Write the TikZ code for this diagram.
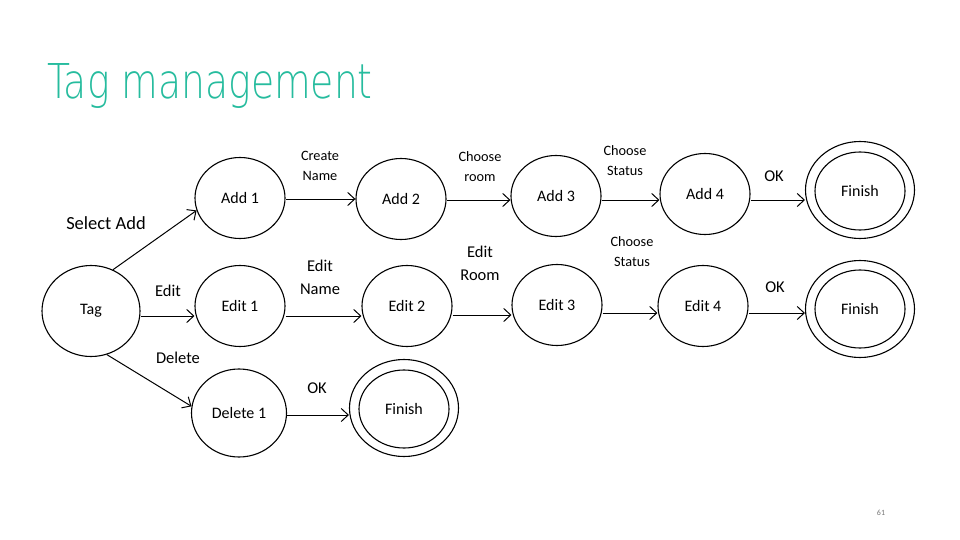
\documentclass[tikz,border=0pt]{standalone}
\usepackage{fontspec}
\setmainfont{Carlito}
\newfontfamily\titlefont{DejaVu Sans ExtraLight}
\usetikzlibrary{arrows.meta,shapes.geometric}
\definecolor{titleteal}{RGB}{38,188,158}
\definecolor{pagegrey}{RGB}{120,120,120}
\tikzset{
  state/.style={draw=black, line width=1.1pt, ellipse, minimum width=90pt, minimum height=81pt, inner sep=0pt, font=\fontsize{16}{16}\selectfont},
  finalouter/.style={draw=black, line width=1.1pt, ellipse, minimum width=109pt, minimum height=97pt, inner sep=0pt},
  finalinner/.style={draw=black, line width=1.1pt, ellipse, minimum width=90pt, minimum height=78pt, inner sep=0pt, font=\fontsize{16}{16}\selectfont},
  trans/.style={draw=black, line width=1pt, -{Straight Barb[length=7pt,width=13pt,line width=1pt]}},
  lbl/.style={font=\fontsize{16.5}{19}\selectfont, inner sep=0pt, align=center},
  slbl/.style={font=\fontsize{14.3}{20}\selectfont, inner sep=0pt, align=center},
}
\begin{document}
\begin{tikzpicture}[x=1pt,y=-1pt]
\useasboundingbox (0,0) rectangle (960,540);
\fill[white] (0,0) rectangle (960,540);

\node[anchor=base west, inner sep=0pt, text=titleteal, font=\titlefont\fontsize{48}{48}\selectfont, xscale=0.785] (title) at (47,99) {Tag management};

% states
\node[state, minimum width=98pt, minimum height=91pt] (tag) at (91,311) {Tag};
\node[state] (a1) at (240,198) {Add 1};
\node[state] (a2) at (401,199) {Add 2};
\node[state] (a3) at (556,196) {Add 3};
\node[state] (a4) at (705,194) {Add 4};
\node[finalouter] (fa) at (860,190) {};
\node[finalinner] (fai) at (860,191) {Finish};

\node[state] (e1) at (240,306) {Edit 1};
\node[state] (e2) at (407,306) {Edit 2};
\node[state] (e3) at (557,305) {Edit 3};
\node[state] (e4) at (703,306) {Edit 4};
\node[finalouter] (fe) at (860,309) {};
\node[finalinner] (fei) at (860,309) {Finish};

\node[state, minimum width=95pt, minimum height=88pt] (d1) at (239,413) {Delete 1};
\node[finalouter] (fd) at (404,408) {};
\node[finalinner] (fdi) at (404,409) {Finish};

% transitions
\draw[trans] (tag.62) -- (a1.196);
\draw[trans] ([yshift=-5pt]tag.east) -- ([yshift=-10pt]e1.west);
\draw[trans] (tag.-70) -- (d1.172);

\draw[trans] ([yshift=-1pt]a1.east) -- (a2.west);
\draw[trans] ([yshift=-1pt]a2.east) -- ([yshift=-4pt]a3.west);
\draw[trans] ([yshift=-4pt]a3.east) -- ([yshift=-6pt]a4.west);
\draw[trans] ([yshift=-6pt]a4.east) -- ([yshift=-10pt]fa.west);

\draw[trans] ([yshift=-10pt]e1.east) -- ([yshift=-10pt]e2.west);
\draw[trans] ([yshift=-9pt]e2.east) -- ([yshift=-10pt]e3.west);
\draw[trans] ([yshift=-8pt]e3.east) -- ([yshift=-7pt]e4.west);
\draw[trans] ([yshift=-7pt]e4.east) -- ([yshift=-4pt]fe.west);

\draw[trans] ([yshift=-2pt]d1.east) -- ([yshift=-7pt]fd.west);

% labels
\node[lbl, font=\fontsize{18.5}{19}\selectfont] (lsel) at (106,223) {Select Add};
\node[lbl] (ledit) at (168,291) {Edit};
\node[lbl] (ldel) at (178,358) {Delete};
\node[slbl] (lcn) at (320,166) {Create\\Name};
\node[slbl] (lcr) at (480,167) {Choose\\room};
\node[slbl] (lcs1) at (625,161) {Choose\\Status};
\node[lbl] (lok1) at (774,176) {OK};
\node[lbl] (len) at (320,277) {Edit\\[4pt]Name};
\node[lbl] (ler) at (480,263) {Edit\\[4pt]Room};
\node[slbl] (lcs2) at (632,252) {Choose\\Status};
\node[lbl] (lok2) at (775,287) {OK};
\node[lbl] (lok3) at (317,388) {OK};

\node[font=\fontsize{8}{8}\selectfont, text=pagegrey, inner sep=0pt] (pg) at (881,513) {61};
\end{tikzpicture}
\end{document}
